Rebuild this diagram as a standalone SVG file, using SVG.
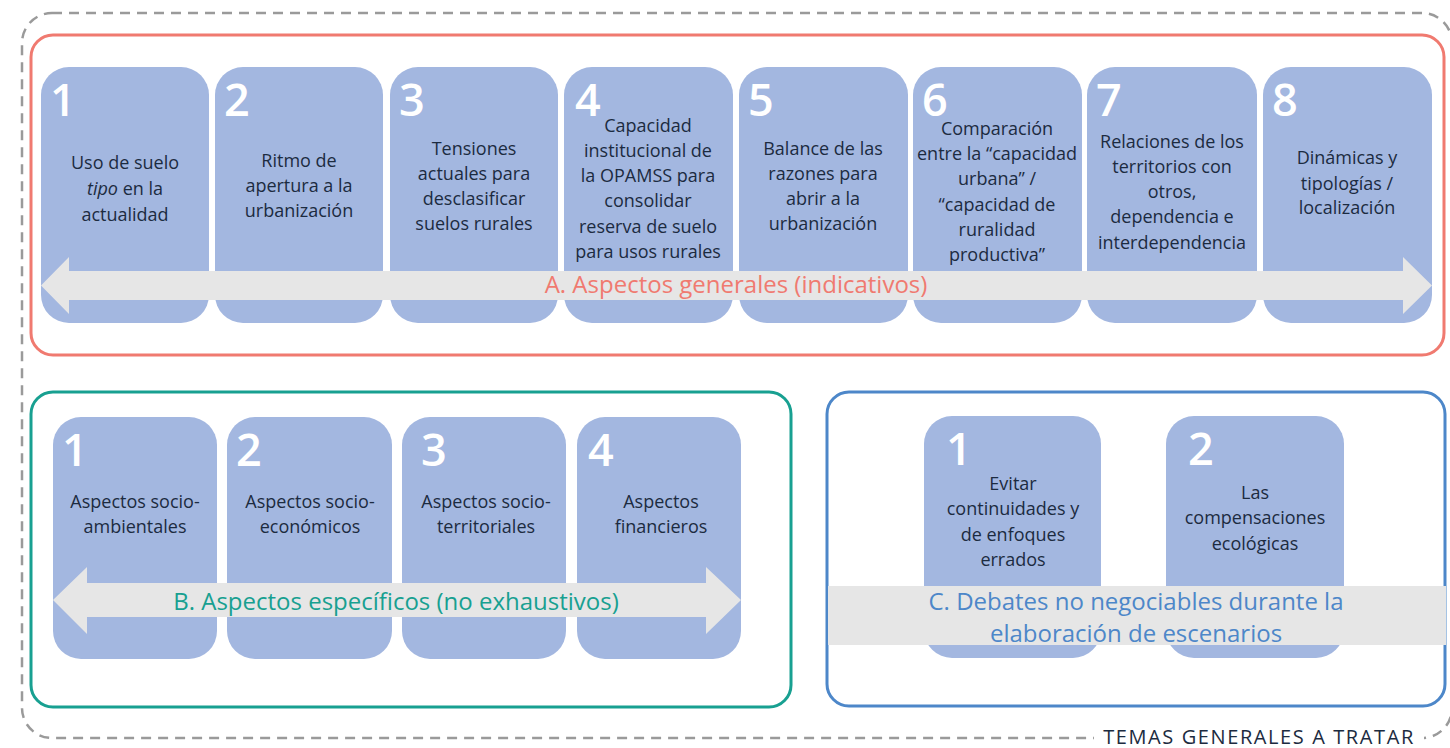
<svg xmlns="http://www.w3.org/2000/svg" width="1450" height="748" viewBox="0 0 1450 748">
<style>
.card{fill:#a3b7e0}
.num{font-family:"Open Sans","Noto Sans",sans-serif;font-size:45px;font-weight:600;fill:#ffffff}
.t{font-family:"Open Sans","Noto Sans",sans-serif;font-size:18px;fill:#1c2b40;text-anchor:middle}
.band{fill:#e6e6e6}
.lbl{font-family:"Open Sans","Noto Sans",sans-serif;font-size:24px;text-anchor:middle}
</style>
<rect width="1450" height="748" fill="#ffffff"/>
<g id="frame">
<rect x="22" y="13" width="1430" height="725" rx="30" fill="none" stroke="#9a9a9a" stroke-width="2.5" stroke-dasharray="10 7"/>
<rect x="1094" y="726" width="330" height="22" fill="#ffffff"/>
<text x="1259" y="744" text-anchor="middle" font-family="'Open Sans','Noto Sans',sans-serif" font-size="20" letter-spacing="1.6" fill="#1c2b40">TEMAS GENERALES A TRATAR</text>
</g>
<g id="sectionA">
<rect x="31" y="35" width="1413" height="320" rx="22" fill="none" stroke="#f07a70" stroke-width="3"/>
</g>
<g id="sectionB">
<rect x="31" y="392" width="760" height="315" rx="22" fill="none" stroke="#18a091" stroke-width="3"/>
</g>
<g id="sectionC">
<rect x="827" y="392" width="618" height="314" rx="22" fill="none" stroke="#4d87c9" stroke-width="3"/>
</g>
<g id="A1"><rect class="card" x="41" y="67" width="168" height="256" rx="28"/><text class="num" x="50" y="116">1</text>
<text class="t" x="125" y="169">Uso de suelo</text><text class="t" x="125" y="195"><tspan font-style="italic">tipo</tspan> en la</text><text class="t" x="125" y="221">actualidad</text></g>
<g id="A2"><rect class="card" x="215" y="67" width="168" height="256" rx="28"/><text class="num" x="224" y="116">2</text>
<text class="t" x="299" y="167">Ritmo de</text><text class="t" x="299" y="192">apertura a la</text><text class="t" x="299" y="217">urbanización</text></g>
<g id="A3"><rect class="card" x="390" y="67" width="168" height="256" rx="28"/><text class="num" x="399" y="116">3</text>
<text class="t" x="474" y="155">Tensiones</text><text class="t" x="474" y="180">actuales para</text><text class="t" x="474" y="205">desclasificar</text><text class="t" x="474" y="230">suelos rurales</text></g>
<g id="A4"><rect class="card" x="564" y="67" width="169" height="256" rx="28"/><text class="num" x="575" y="116">4</text>
<text class="t" x="648" y="132">Capacidad</text><text class="t" x="648" y="157">institucional de</text><text class="t" x="648" y="182">la OPAMSS para</text><text class="t" x="648" y="207">consolidar</text><text class="t" x="648" y="233">reserva de suelo</text><text class="t" x="648" y="258">para usos rurales</text></g>
<g id="A5"><rect class="card" x="739" y="67" width="169" height="256" rx="28"/><text class="num" x="748" y="116">5</text>
<text class="t" x="823" y="155">Balance de las</text><text class="t" x="823" y="180">razones para</text><text class="t" x="823" y="205">abrir a la</text><text class="t" x="823" y="230">urbanización</text></g>
<g id="A6"><rect class="card" x="913" y="67" width="169" height="256" rx="28"/><text class="num" x="922" y="116">6</text>
<text class="t" x="997" y="135">Comparación</text><text class="t" x="997" y="160">entre la “capacidad</text><text class="t" x="997" y="185">urbana” /</text><text class="t" x="997" y="211">“capacidad de</text><text class="t" x="997" y="236">ruralidad</text><text class="t" x="997" y="261">productiva”</text></g>
<g id="A7"><rect class="card" x="1087" y="67" width="170" height="256" rx="28"/><text class="num" x="1096" y="116">7</text>
<text class="t" x="1172" y="148">Relaciones de los</text><text class="t" x="1172" y="173">territorios con</text><text class="t" x="1172" y="198">otros,</text><text class="t" x="1172" y="223">dependencia e</text><text class="t" x="1172" y="249">interdependencia</text></g>
<g id="A8"><rect class="card" x="1263" y="67" width="169" height="256" rx="28"/><text class="num" x="1272" y="116">8</text>
<text class="t" x="1347" y="164">Dinámicas y</text><text class="t" x="1347" y="190">tipologías /</text><text class="t" x="1347" y="214">localización</text></g>
<g id="B1"><rect class="card" x="53" y="417" width="164" height="242" rx="28"/><text class="num" x="62" y="466">1</text>
<text class="t" x="135" y="508">Aspectos socio-</text><text class="t" x="135" y="533">ambientales</text></g>
<g id="B2"><rect class="card" x="227" y="417" width="165" height="242" rx="28"/><text class="num" x="236" y="466">2</text>
<text class="t" x="310" y="508">Aspectos socio-</text><text class="t" x="310" y="533">económicos</text></g>
<g id="B3"><rect class="card" x="402" y="417" width="164" height="242" rx="28"/><text class="num" x="421" y="466">3</text>
<text class="t" x="486" y="508">Aspectos socio-</text><text class="t" x="486" y="533">territoriales</text></g>
<g id="B4"><rect class="card" x="577" y="417" width="164" height="242" rx="28"/><text class="num" x="588" y="466">4</text>
<text class="t" x="661" y="508">Aspectos</text><text class="t" x="661" y="533">financieros</text></g>
<g id="C1"><rect class="card" x="924" y="416" width="177" height="242" rx="28"/><text class="num" x="946" y="465">1</text>
<text class="t" x="1013" y="490">Evitar</text><text class="t" x="1013" y="515">continuidades y</text><text class="t" x="1013" y="541">de enfoques</text><text class="t" x="1013" y="566">errados</text></g>
<g id="C2"><rect class="card" x="1166" y="416" width="178" height="242" rx="28"/><text class="num" x="1188" y="465">2</text>
<text class="t" x="1255" y="499">Las</text><text class="t" x="1255" y="524">compensaciones</text><text class="t" x="1255" y="550">ecológicas</text></g>
<g id="connectors">
<polygon class="band" points="41,285.5 69,257 69,271 1403,271 1403,257 1432,285.5 1403,314 1403,300 69,300 69,314"/>
<polygon class="band" points="53,600 87,567 87,583 706,583 706,567 741,600 706,634 706,617 87,617 87,634"/>
<rect class="band" x="828" y="586" width="618" height="59"/>
</g>
<g id="labels">
<text class="lbl" x="736" y="293" fill="#f07a70">A. Aspectos generales (indicativos)</text>
<text class="lbl" x="396" y="610" fill="#18a091">B. Aspectos específicos (no exhaustivos)</text>
<text class="lbl" x="1136" y="610" fill="#4d87c9">C. Debates no negociables durante la</text>
<text class="lbl" x="1136" y="642" fill="#4d87c9">elaboración de escenarios</text>
</g>
</svg>
